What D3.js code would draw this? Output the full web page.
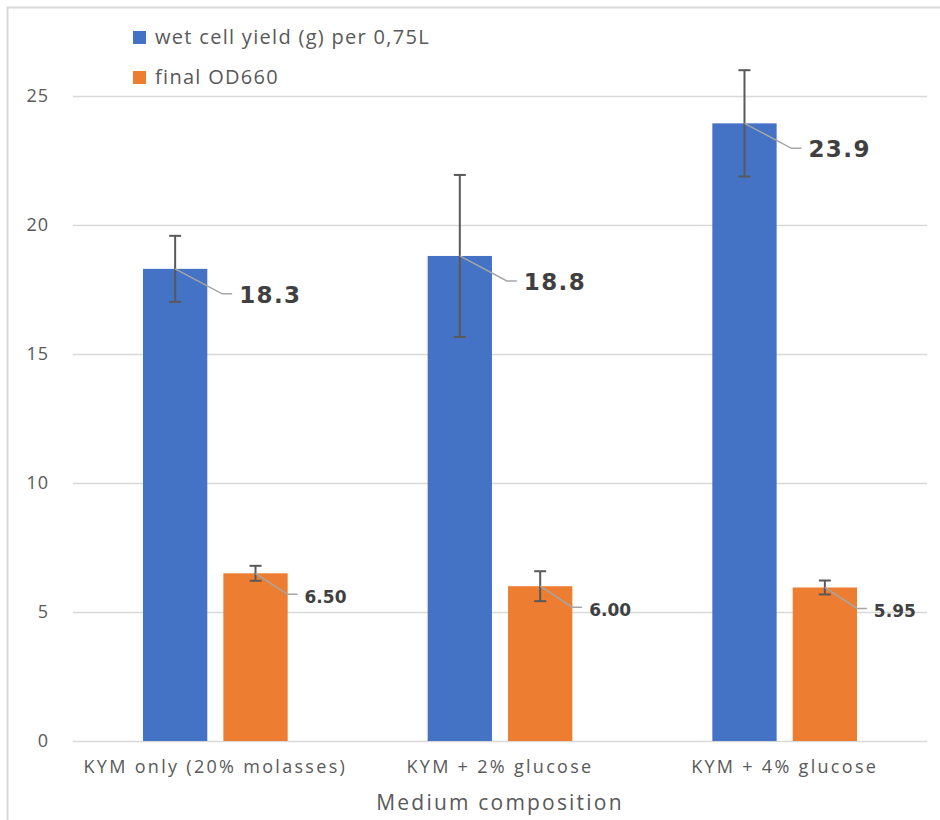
<!DOCTYPE html>
<html>
<head>
<meta charset="utf-8">
<script src="https://cdn.jsdelivr.net/npm/d3@7"></script>
<style>
  html, body { margin: 0; padding: 0; background: #fff; }
  svg { display: block; }
</style>
</head>
<body>
<svg id="chart" width="940" height="820"></svg>
<script>
// ---- data ----
const categories = ["KYM only (20% molasses)", "KYM + 2% glucose", "KYM + 4% glucose"];
const seriesNames = ["wet cell yield (g) per 0,75L", "final OD660"];
const wetCellYield = [18.3, 18.8, 23.94];
const wetCellYieldErr = [1.28, 3.14, 2.06];
const finalOD660 = [6.50, 6.00, 5.95];
const finalOD660Err = [0.29, 0.58, 0.27];
const yTicks = [0, 5, 10, 15, 20, 25];
const xAxisTitle = "Medium composition";

// ---- styles / layout ----
const colors = ["#4472C4", "#ED7D31"];
const labelFormats = [d3.format(".1f"), d3.format(".2f")];
const plot = { left: 73, right: 927, top: 96, bottom: 741 };

const svg = d3.select("#chart");

// outer chart border (frame is cropped at right/bottom)
svg.append("rect")
  .attr("x", 7.5).attr("y", 7.5)
  .attr("width", 1000).attr("height", 1000)
  .attr("fill", "none").attr("stroke", "#d9d9d9").attr("stroke-width", 2);

const y = d3.scaleLinear().domain([0, 25]).range([plot.bottom, plot.top]);
const x0 = d3.scaleBand().domain(categories).range([plot.left, plot.right]).padding(0);
const groupPad = 70;
const x1 = d3.scaleBand().domain(seriesNames)
  .range([groupPad, x0.bandwidth() - groupPad]).paddingInner(0.2).paddingOuter(0);

// gridlines
svg.append("g").selectAll("line").data(yTicks).join("line")
  .attr("x1", plot.left).attr("x2", plot.right)
  .attr("y1", d => Math.round(y(d)) + 0.5).attr("y2", d => Math.round(y(d)) + 0.5)
  .attr("stroke", "#d9d9d9").attr("stroke-width", 1.5);

// y axis labels
const yAxis = d3.axisLeft(y).tickValues(yTicks).tickSize(0).tickPadding(0);
const yg = svg.append("g").attr("transform", `translate(${plot.left - 24},0)`).call(yAxis);
yg.select(".domain").remove();
yg.selectAll("text")
  .attr("fill", "#595959")
  .style("font-family", "'Open Sans', sans-serif")
  .style("font-size", "18px")
  .style("letter-spacing", "1px");

// x axis labels
const xAxis = d3.axisBottom(x0).tickSize(0).tickPadding(0);
const xg = svg.append("g").attr("transform", `translate(0,${plot.bottom + 19})`).call(xAxis);
xg.select(".domain").remove();
xg.selectAll("text")
  .attr("fill", "#595959")
  .style("font-family", "'Open Sans', sans-serif")
  .style("font-size", "18px")
  .style("letter-spacing", "2.3px");

// x axis title
svg.append("text")
  .attr("x", (plot.left + plot.right) / 2).attr("y", 810)
  .attr("text-anchor", "middle")
  .attr("fill", "#595959")
  .style("font-family", "'Open Sans', sans-serif")
  .style("font-size", "21px")
  .style("letter-spacing", "2.2px")
  .text(xAxisTitle);

// series data
const series = [
  { name: seriesNames[0], values: wetCellYield, errs: wetCellYieldErr },
  { name: seriesNames[1], values: finalOD660, errs: finalOD660Err }
];
const labelStyle = [
  { elbowDx: 47, elbowDy: 25, endDx: 57, textDx: 64, textDy: 34, size: 23, ls: 1.4 },
  { elbowDx: 32, elbowDy: 21, endDx: 42, textDx: 49, textDy: 30, size: 17, ls: 0 }
];

series.forEach((s, si) => {
  const g = svg.append("g");
  const items = categories.map((c, i) => ({ c, v: s.values[i], e: s.errs[i] }));
  const cx = d => x0(d.c) + x1(s.name) + x1.bandwidth() / 2;

  // bars
  g.selectAll("rect").data(items).join("rect")
    .attr("x", d => x0(d.c) + x1(s.name))
    .attr("y", d => y(d.v))
    .attr("width", x1.bandwidth())
    .attr("height", d => y(0) - y(d.v))
    .attr("fill", colors[si]);

  // error bars
  const eb = g.selectAll("g.err").data(items).join("g").attr("class", "err")
    .attr("stroke", "#595959").attr("stroke-width", 2);
  eb.append("line")
    .attr("x1", cx).attr("x2", cx)
    .attr("y1", d => y(d.v + d.e)).attr("y2", d => y(d.v - d.e));
  eb.append("line")
    .attr("x1", d => cx(d) - 6).attr("x2", d => cx(d) + 6)
    .attr("y1", d => y(d.v + d.e)).attr("y2", d => y(d.v + d.e));
  eb.append("line")
    .attr("x1", d => cx(d) - 6).attr("x2", d => cx(d) + 6)
    .attr("y1", d => y(d.v - d.e)).attr("y2", d => y(d.v - d.e));

  // leader lines
  const ls = labelStyle[si];
  g.selectAll("path.leader").data(items).join("path").attr("class", "leader")
    .attr("d", d => {
      const px = cx(d), py = y(d.v);
      return `M${px},${py}L${px + ls.elbowDx},${py + ls.elbowDy}L${px + ls.endDx},${py + ls.elbowDy}`;
    })
    .attr("fill", "none").attr("stroke", "#a6a6a6").attr("stroke-width", 1.5);

  // data labels
  g.selectAll("text.lbl").data(items).join("text").attr("class", "lbl")
    .attr("x", d => cx(d) + ls.textDx)
    .attr("y", d => y(d.v) + ls.textDy)
    .attr("fill", "#404040")
    .style("font-family", "'DejaVu Sans', sans-serif")
    .style("font-weight", "bold")
    .style("font-size", ls.size + "px")
    .style("letter-spacing", ls.ls + "px")
    .text(d => labelFormats[si](d.v));
});

// legend
const lg = svg.append("g");
seriesNames.forEach((n, i) => {
  const ly = 37 + i * 40;
  lg.append("rect").attr("x", 133).attr("y", ly - 6).attr("width", 13).attr("height", 13)
    .attr("fill", colors[i]);
  lg.append("text").attr("x", 155).attr("y", ly + 7)
    .attr("fill", "#595959")
    .style("font-family", "'Open Sans', sans-serif")
    .style("font-size", "20px")
    .style("letter-spacing", "1.3px")
    .text(n);
});
</script>
</body>
</html>
